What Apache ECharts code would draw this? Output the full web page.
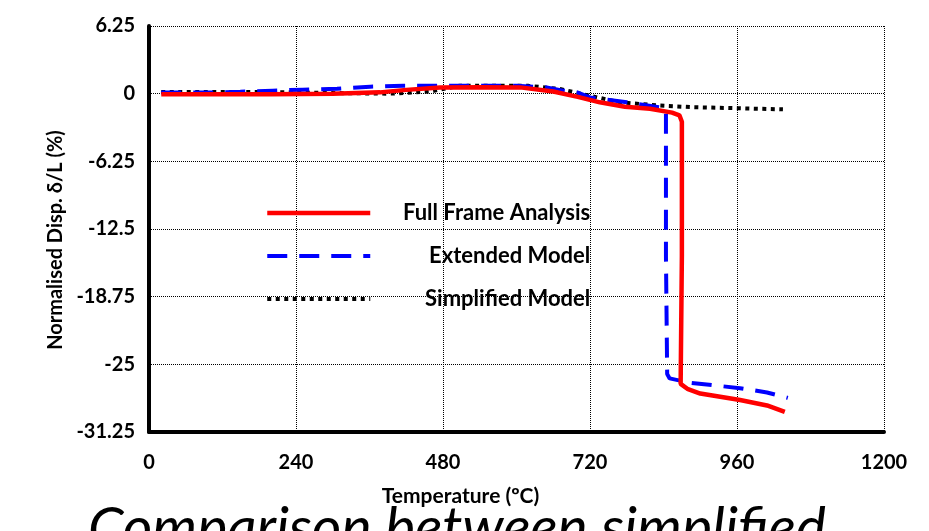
<!DOCTYPE html>
<html>
<head>
<meta charset="utf-8">
<script src="https://cdn.jsdelivr.net/npm/echarts@6/dist/echarts.min.js"></script>
<style>
html,body{margin:0;padding:0;background:#fff;}
#chart{width:929px;height:531px;}
</style>
</head>
<body>
<div id="chart"></div>
<script>
// ---- data ----
var xTicks = [0, 240, 480, 720, 960, 1200];
var yTicks = [-31.25, -25, -18.75, -12.5, -6.25, 0, 6.25];

var fullT = [20, 100, 200, 300, 377, 420, 475, 540, 606, 660, 700, 736, 777, 818, 854, 866, 870, 870, 868, 880, 900, 965, 1009, 1038];
var fullV = [-0.05, -0.05, -0.05, 0.0, 0.12, 0.35, 0.58, 0.6, 0.58, 0.2, -0.3, -0.8, -1.2, -1.4, -1.75, -2.0, -2.6, -15, -26.8, -27.3, -27.7, -28.3, -28.8, -29.4];

var extT = [20, 100, 149, 202, 251, 307, 361, 415, 500, 600, 649, 676, 699, 720, 780, 839, 844, 844, 846, 850, 883, 965, 1009, 1043];
var extV = [0.1, 0.1, 0.18, 0.28, 0.37, 0.46, 0.65, 0.74, 0.74, 0.72, 0.58, 0.28, 0.12, -0.35, -0.8, -1.3, -1.4, -15, -25.9, -26.3, -26.7, -27.2, -27.6, -28.1];

var simT = [20, 100, 200, 300, 393, 459, 508, 560, 620, 671, 720, 769, 834, 888, 965, 1035];
var simV = [0.15, 0.15, 0.15, 0.06, 0.0, 0.2, 0.74, 0.74, 0.72, 0.43, -0.2, -0.8, -1.1, -1.25, -1.35, -1.45];

var names = ['Full Frame Analysis', 'Extended Model', 'Simplified Model'];
var yTitle = 'Normalised Disp. δ/L (%)';
var xTitle = 'Temperature (ºC)';
var caption = 'Comparison between simplified';

function pairs(t, v) { return t.map(function (x, i) { return [x, v[i]]; }); }

var FONT = 'Lato';
var chart = echarts.init(document.getElementById('chart'), null, {renderer: 'canvas'});
chart.setOption({
  animation: false,
  backgroundColor: '#fff',
  grid: {left: 149, right: 45, top: 26, bottom: 99, containLabel: false},
  xAxis: {
    type: 'value', min: 0, max: 1200, interval: 240,
    name: xTitle, nameLocation: 'middle', nameGap: 54,
    nameTextStyle: {fontFamily: FONT, fontWeight: 'bold', fontSize: 21, color: '#000', padding: [0, 112, 0, 0]},
    axisLine: {show: true, onZero: false, lineStyle: {color: '#000', width: 4}},
    axisTick: {show: false},
    axisLabel: {fontFamily: FONT, fontWeight: 'bold', fontSize: 20, color: '#000', margin: 21,
      formatter: function (v) { return xTicks.indexOf(v) >= 0 ? String(v) : ''; }},
    splitLine: {show: true, lineStyle: {color: '#000', type: 'dotted', width: 1}}
  },
  yAxis: {
    type: 'value', min: -31.25, max: 6.25, interval: 6.25,
    name: yTitle, nameLocation: 'middle', nameGap: 77,
    nameTextStyle: {fontFamily: FONT, fontWeight: 'bold', fontSize: 20, color: '#000', padding: [0, 22, 0, 0]},
    axisLine: {show: true, onZero: false, lineStyle: {color: '#000', width: 4}},
    axisTick: {show: false},
    axisLabel: {fontFamily: FONT, fontWeight: 'bold', fontSize: 20, color: '#000', margin: 14,
      formatter: function (v) { return String(v); }},
    splitLine: {show: true, lineStyle: {color: '#000', type: 'dotted', width: 1}}
  },
  legend: {
    data: names,
    orient: 'vertical',
    left: 260, top: 197,
    itemWidth: 103, itemHeight: 14, itemGap: 21,
    itemStyle: {opacity: 0},
    lineStyle: {width: 'inherit'},
    formatter: function (n) { return '{a|' + n + '}'; },
    textStyle: {
      rich: {a: {width: 215, height: 14, lineHeight: 14, align: 'right', fontFamily: FONT, fontWeight: 'bold', fontSize: 22, color: '#000'}}
    }
  },
  graphic: [{
    type: 'text', left: 88, top: 500, silent: true,
    style: {text: caption, fontFamily: FONT, fontStyle: 'italic', fontSize: 57, fill: '#000'}
  }],
  series: [
    {name: names[2], type: 'line', data: pairs(simT, simV), showSymbol: false, symbol: 'none',
      lineStyle: {color: '#000', width: 4, type: [4, 4.5], cap: 'butt'}, itemStyle: {color: '#000'}, z: 2},
    {name: names[1], type: 'line', data: pairs(extT, extV), showSymbol: false, symbol: 'none',
      lineStyle: {color: '#0000ff', width: 4, type: [20, 12], cap: 'butt'}, itemStyle: {color: '#0000ff'}, z: 3},
    {name: names[0], type: 'line', data: pairs(fullT, fullV), showSymbol: false, symbol: 'none',
      lineStyle: {color: '#ff0000', width: 4.5}, itemStyle: {color: '#ff0000'}, z: 4}
  ]
});
</script>
</body>
</html>
